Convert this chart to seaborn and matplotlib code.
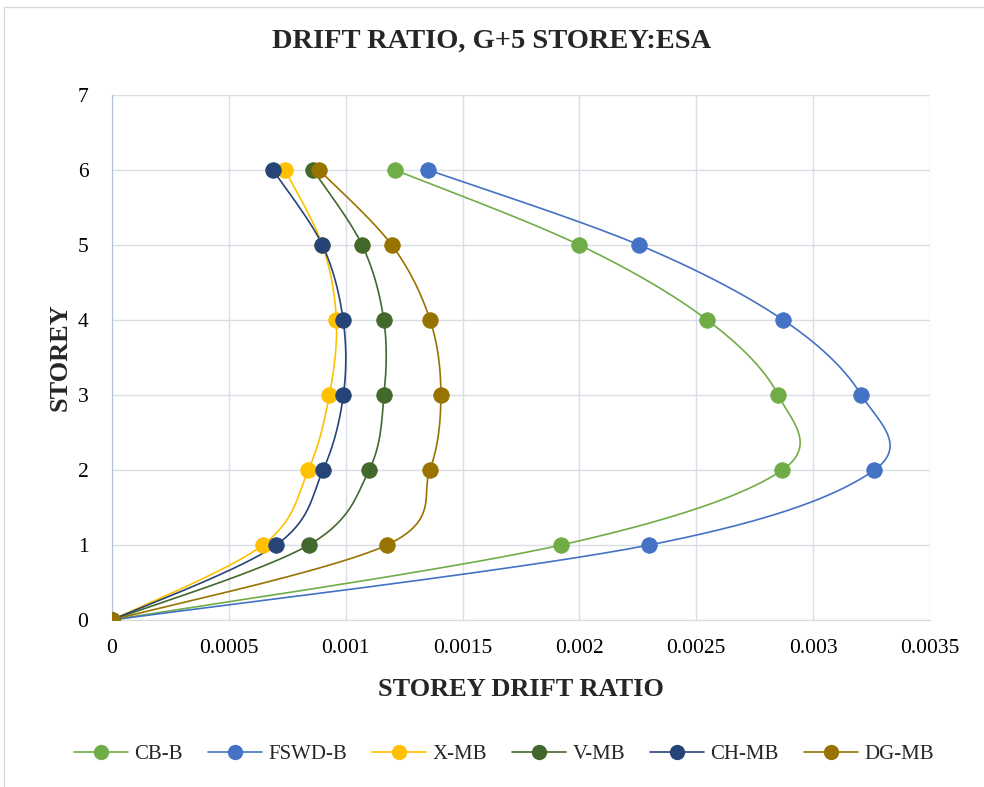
import numpy as np
import pandas as pd
import matplotlib
matplotlib.use("Agg")
import matplotlib.pyplot as plt
import seaborn as sns
from matplotlib.lines import Line2D
from matplotlib.ticker import FuncFormatter, MultipleLocator

# storey drift ratio per storey (storey 0..6)
storeys = [0, 1, 2, 3, 4, 5, 6]
cb_b = [0, 0.001922, 0.002868, 0.002850, 0.002547, 0.002000, 0.001211]
fswd_b = [0, 0.002299, 0.003262, 0.003206, 0.002872, 0.002256, 0.001353]
x_mb = [0, 0.000646, 0.000840, 0.000930, 0.000960, 0.000900, 0.000740]
v_mb = [0, 0.000842, 0.001100, 0.001164, 0.001163, 0.001070, 0.000860]
ch_mb = [0, 0.000702, 0.000903, 0.000990, 0.000989, 0.000900, 0.000688]
dg_mb = [0, 0.001176, 0.001360, 0.001407, 0.001361, 0.001197, 0.000886]

series_names = ["CB-B", "FSWD-B", "X-MB", "V-MB", "CH-MB", "DG-MB"]
series_vals = [cb_b, fswd_b, x_mb, v_mb, ch_mb, dg_mb]
colors = ["#70AD47", "#4472C4", "#FFC000", "#43682B", "#264478", "#997300"]

XMAX, YMAX = 0.0035, 7


def excel_smooth(xs, ys, sx, sy, n=40):
    # Bezier smoothing like Excel's "smoothed line", done in screen-ish units
    p = np.column_stack([np.asarray(xs) * sx, np.asarray(ys) * sy])
    pts = [p[0]] + list(p) + [p[-1]]
    out = []
    t = np.linspace(0, 1, n)[:, None]
    for i in range(1, len(pts) - 2):
        p0, p1, p2, p3 = pts[i - 1], pts[i], pts[i + 1], pts[i + 2]
        c1 = p1 + (p2 - p0) / 6
        c2 = p2 - (p3 - p1) / 6
        seg = ((1 - t) ** 3) * p1 + 3 * ((1 - t) ** 2) * t * c1 + 3 * (1 - t) * t ** 2 * c2 + t ** 3 * p2
        out.append(seg)
    out = np.vstack(out)
    return out[:, 0] / sx, out[:, 1] / sy


rows = []
curves = []
for name, vals in zip(series_names, series_vals):
    for s, v in zip(storeys, vals):
        rows.append({"series": name, "drift": v, "storey": s})
    cx, cy = excel_smooth(vals, storeys, 818 / XMAX, 525 / YMAX)
    curves.append(pd.DataFrame({"series": name, "drift": cx, "storey": cy}))
df = pd.DataFrame(rows)

sns.set_style("white")
plt.rcParams["font.family"] = ["Liberation Serif", "DejaVu Serif"]

fig = plt.figure(figsize=(9.84, 7.87), dpi=100)
ax = fig.add_axes([112 / 984, 1 - 620 / 787, (930 - 112) / 984, (620 - 95) / 787])

for name, col, cdf in zip(series_names, colors, curves):
    sns.lineplot(data=cdf, x="drift", y="storey", sort=False, estimator=None,
                 color=col, linewidth=1.2, ax=ax, legend=False)
    sns.scatterplot(data=df[df["series"] == name], x="drift", y="storey",
                    color=col, s=125, edgecolor=col, linewidth=0.6, ax=ax,
                    legend=False, zorder=5)

ax.set_xlim(0, XMAX)
ax.set_ylim(0, YMAX)
ax.xaxis.set_major_locator(MultipleLocator(0.0005))
ax.yaxis.set_major_locator(MultipleLocator(1))
ax.xaxis.set_major_formatter(FuncFormatter(lambda v, p: f"{v:g}"))
ax.grid(True, color="#D9DDE6", linewidth=1.0)
ax.set_axisbelow(True)
for side in ["top", "right"]:
    ax.spines[side].set_visible(False)
ax.spines["left"].set_color("#B4C0D6")
ax.spines["bottom"].set_color("#D9D9D9")
ax.tick_params(axis="x", length=0, labelsize=15.5, colors="black", pad=14)
ax.tick_params(axis="y", length=0, labelsize=15.5, colors="black", pad=17)

ax.set_xlabel("STOREY DRIFT RATIO", fontsize=19, fontweight="bold", labelpad=14)
ax.set_ylabel("STOREY", fontsize=19, fontweight="bold", labelpad=4)
fig.text(0.5, 1 - 41 / 787, "DRIFT RATIO, G+5 STOREY:ESA", ha="center", va="center",
         fontsize=20.5, fontweight="bold")

handles = [Line2D([0], [0], color=c, marker="o", markersize=10, linewidth=1.2,
                  markeredgecolor=c) for c in colors]
fig.legend(handles, series_names, loc="center", bbox_to_anchor=(0.512, 1 - 754 / 787),
           ncol=6, frameon=False, fontsize=15, handlelength=2.6, columnspacing=1.2,
           handletextpad=0.3)

# chart area border
fig.add_artist(Line2D([4 / 984, 4 / 984], [0, 1 - 7 / 787], color="#D9D9D9", linewidth=1,
                      transform=fig.transFigure))
fig.add_artist(Line2D([4 / 984, 1], [1 - 7 / 787, 1 - 7 / 787], color="#D9D9D9", linewidth=1,
                      transform=fig.transFigure))

fig.savefig("out.png", dpi=100)
